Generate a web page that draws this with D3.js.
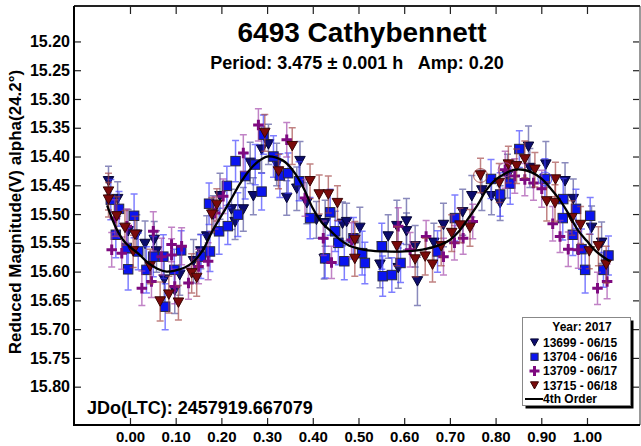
<!DOCTYPE html>
<html>
<head>
<meta charset="utf-8">
<script src="https://cdn.jsdelivr.net/npm/d3@7"></script>
<style>
  html, body { margin: 0; padding: 0; background: #fff; }
  svg { display: block; font-family: "Liberation Sans", Arial, sans-serif; }
</style>
</head>
<body>
<svg id="chart" width="641" height="446"></svg>
<script>
// Sessions shown in the legend
const sessionNames = ["13699 - 06/15", "13704 - 06/16", "13709 - 06/17", "13715 - 06/18"];

// Session 13699 (06/15)
const phase13699 = [-0.047,-0.027,-0.004,0.015,0.033,0.053,0.058,0.075,0.098,0.109,0.139,0.155,0.168,0.182,0.197,0.222,0.230,0.248,0.263,0.270,0.288,0.303,0.321,0.343,0.372,0.365,0.387,0.408,0.427,0.425,0.465,0.474,0.503,0.547,0.565,0.584,0.587,0.605,0.605,0.624,0.629,0.665,0.686,0.728,0.748,0.770,0.791,0.810,0.826,0.872,0.875,0.910,0.952,0.970,1.010,1.032];
const mag13699 = [15.443,15.474,15.530,15.536,15.552,15.545,15.565,15.614,15.633,15.606,15.582,15.565,15.539,15.501,15.469,15.492,15.514,15.492,15.411,15.469,15.388,15.379,15.414,15.472,15.408,15.456,15.481,15.510,15.516,15.578,15.517,15.514,15.524,15.588,15.539,15.521,15.594,15.513,15.530,15.556,15.617,15.550,15.519,15.497,15.469,15.459,15.469,15.481,15.434,15.383,15.420,15.414,15.443,15.474,15.524,15.550];
const err13699 = [0.026,0.030,0.038,0.035,0.040,0.032,0.036,0.042,0.040,0.035,0.038,0.030,0.036,0.033,0.040,0.035,0.030,0.038,0.036,0.032,0.040,0.035,0.037,0.030,0.034,0.038,0.036,0.032,0.040,0.035,0.038,0.033,0.036,0.040,0.038,0.045,0.035,0.040,0.032,0.036,0.042,0.034,0.038,0.040,0.036,0.035,0.032,0.030,0.038,0.036,0.034,0.040,0.032,0.035,0.038,0.036];

// Session 13704 (06/16)
const phase13704 = [-0.042,-0.024,-0.031,-0.007,0.009,-0.004,0.018,0.036,0.051,0.073,0.077,0.097,0.112,0.155,0.175,0.173,0.195,0.212,0.214,0.236,0.231,0.252,0.274,0.292,0.288,0.314,0.328,0.346,0.370,0.394,0.438,0.449,0.456,0.489,0.427,0.469,0.508,0.514,0.551,0.553,0.573,0.592,0.673,0.711,0.790,0.810,0.832,0.852,0.908,0.948,0.947,0.976,0.969,1.007,0.988,0.996,1.036,1.047];
const mag13704 = [15.475,15.491,15.536,15.559,15.503,15.596,15.565,15.597,15.574,15.574,15.661,15.597,15.563,15.574,15.565,15.482,15.530,15.451,15.521,15.501,15.408,15.434,15.414,15.362,15.461,15.400,15.433,15.429,15.443,15.507,15.497,15.530,15.550,15.542,15.577,15.582,15.568,15.585,15.556,15.608,15.606,15.585,15.565,15.507,15.439,15.466,15.447,15.387,15.439,15.474,15.507,15.491,15.536,15.503,15.561,15.597,15.597,15.572];
const err13704 = [0.035,0.030,0.040,0.034,0.038,0.036,0.032,0.040,0.035,0.038,0.040,0.036,0.034,0.038,0.035,0.036,0.040,0.034,0.032,0.038,0.036,0.040,0.035,0.034,0.032,0.036,0.038,0.035,0.034,0.036,0.040,0.035,0.038,0.036,0.034,0.032,0.038,0.036,0.040,0.035,0.030,0.034,0.036,0.040,0.034,0.038,0.036,0.032,0.035,0.036,0.038,0.034,0.036,0.032,0.035,0.040,0.030,0.034];

// Session 13709 (06/17)
const phase13709 = [-0.040,-0.018,-0.033,-0.007,0.051,0.026,0.047,0.069,0.091,0.091,0.113,0.098,0.128,0.150,0.171,0.186,0.204,0.248,0.281,0.343,0.383,0.423,0.441,0.485,0.587,0.613,0.648,0.686,0.710,0.729,0.750,0.821,0.842,0.864,0.883,0.901,0.925,0.941,0.959,0.981,1.044,1.023];
const mag13709 = [15.562,15.568,15.507,15.521,15.530,15.629,15.617,15.574,15.553,15.571,15.556,15.626,15.620,15.591,15.582,15.498,15.469,15.394,15.345,15.371,15.472,15.542,15.584,15.545,15.521,15.562,15.539,15.574,15.550,15.542,15.513,15.423,15.434,15.440,15.446,15.456,15.517,15.539,15.561,15.562,15.617,15.629];
const err13709 = [0.030,0.028,0.032,0.030,0.034,0.030,0.028,0.032,0.030,0.028,0.032,0.030,0.028,0.030,0.032,0.028,0.030,0.032,0.028,0.030,0.032,0.030,0.028,0.030,0.032,0.030,0.028,0.032,0.030,0.028,0.030,0.032,0.030,0.028,0.030,0.032,0.030,0.028,0.030,0.032,0.030,0.028];

// Session 13715 (06/18)
const phase13715 = [-0.047,-0.047,-0.029,-0.011,0.011,0.007,0.044,0.066,0.085,0.106,0.135,0.146,0.179,0.190,0.295,0.325,0.355,0.394,0.414,0.434,0.454,0.492,0.492,0.584,0.624,0.646,0.662,0.681,0.704,0.722,0.744,0.767,0.808,0.828,0.846,0.864,0.886,0.912,0.931,0.930,0.967,0.986,1.005,1.025,1.042];
const mag13715 = [15.461,15.475,15.504,15.524,15.536,15.565,15.591,15.652,15.640,15.654,15.603,15.611,15.501,15.484,15.359,15.426,15.382,15.443,15.466,15.466,15.481,15.545,15.578,15.556,15.579,15.574,15.588,15.556,15.533,15.520,15.524,15.433,15.446,15.414,15.417,15.405,15.423,15.478,15.440,15.481,15.507,15.519,15.565,15.556,15.588];
const err13715 = [0.032,0.030,0.034,0.030,0.032,0.028,0.030,0.034,0.032,0.030,0.034,0.032,0.030,0.028,0.032,0.030,0.032,0.030,0.034,0.032,0.030,0.032,0.030,0.034,0.030,0.032,0.030,0.034,0.032,0.030,0.032,0.030,0.034,0.032,0.030,0.032,0.030,0.034,0.030,0.032,0.030,0.032,0.030,0.034,0.032];

// Flagged observations, drawn with a ring: [session index, point index]
const ringedPoints = [[3, 31], [2, 31], [1, 48]];

// 4th-order Fourier fit
const fitPhase = [-0.05,-0.03,-0.01,0.02,0.04,0.06,0.08,0.10,0.12,0.14,0.16,0.18,0.20,0.22,0.24,0.26,0.28,0.30,0.32,0.34,0.36,0.38,0.40,0.42,0.44,0.46,0.48,0.50,0.52,0.56,0.60,0.64,0.68,0.70,0.72,0.74,0.76,0.78,0.80,0.82,0.84,0.86,0.88,0.90,0.92,0.94,0.96,0.98,1.00,1.02,1.05];
const fitMag = [15.485,15.525,15.550,15.570,15.585,15.595,15.600,15.598,15.593,15.582,15.562,15.530,15.503,15.476,15.448,15.425,15.409,15.400,15.402,15.410,15.428,15.455,15.490,15.515,15.530,15.545,15.555,15.560,15.563,15.565,15.565,15.562,15.553,15.545,15.530,15.508,15.485,15.458,15.440,15.430,15.423,15.423,15.428,15.438,15.455,15.475,15.500,15.528,15.547,15.565,15.582];

// Axis ticks
const xTicks = [0.0,0.1,0.2,0.3,0.4,0.5,0.6,0.7,0.8,0.9,1.0];
const yTicks = [15.20,15.25,15.30,15.35,15.40,15.45,15.50,15.55,15.60,15.65,15.70,15.75,15.80];

// ---- drawing ----
const svg = d3.select("#chart");
const plot = { left: 74, top: 6, right: 640, bottom: 425 };

const x = d3.scaleLinear().domain([-0.1225, 1.116]).range([plot.left, plot.right]);
const y = d3.scaleLinear().domain([15.1384, 15.8666]).range([plot.top, plot.bottom]);

const sessions = [
  { name: sessionNames[0], phase: phase13699, mag: mag13699, err: err13699, shape: "tri",
    fill: "#0c0c6e", stroke: "#050533", bar: "#4c4c98" },
  { name: sessionNames[1], phase: phase13704, mag: mag13704, err: err13704, shape: "square",
    fill: "#0a14f0", stroke: "#2a2a40", bar: "#3a3aff" },
  { name: sessionNames[2], phase: phase13709, mag: mag13709, err: err13709, shape: "plus",
    fill: "#7e0a80", stroke: "#7e0a80", bar: "#a040a8" },
  { name: sessionNames[3], phase: phase13715, mag: mag13715, err: err13715, shape: "tri",
    fill: "#7a0a0a", stroke: "#3a0505", bar: "#a04040" }
];

svg.append("defs").append("clipPath").attr("id", "plotClip")
  .append("rect").attr("x", plot.left).attr("y", plot.top)
  .attr("width", plot.right - plot.left).attr("height", plot.bottom - plot.top);

const dataLayer = svg.append("g").attr("clip-path", "url(#plotClip)");

function drawMarker(g, shape, s, cx, cy, size) {
  if (shape === "tri") {
    const w = size, h = size * 0.9;
    g.append("path")
      .attr("d", `M${cx - w / 2},${cy - h / 2}L${cx + w / 2},${cy - h / 2}L${cx},${cy + h / 2}Z`)
      .attr("fill", s.fill).attr("stroke", s.stroke).attr("stroke-width", 1);
  } else if (shape === "square") {
    const w = size * 0.9;
    g.append("rect").attr("x", cx - w / 2).attr("y", cy - w / 2)
      .attr("width", w).attr("height", w)
      .attr("fill", s.fill).attr("stroke", s.stroke).attr("stroke-width", 1);
  } else {
    const r = size / 2;
    g.append("path")
      .attr("d", `M${cx - r},${cy}L${cx + r},${cy}M${cx},${cy - r}L${cx},${cy + r}`)
      .attr("stroke", s.fill).attr("stroke-width", 3).attr("fill", "none");
  }
}

sessions.forEach(s => {
  const pts = s.phase.map((p, i) => ({ p, m: s.mag[i], e: s.err[i] }));
  const gBars = dataLayer.append("g").attr("stroke", s.bar).attr("stroke-opacity", 0.65)
    .attr("stroke-width", 1.5).attr("fill", "none");
  pts.forEach(d => {
    const cx = x(d.p), y1 = y(d.m - d.e), y2 = y(d.m + d.e);
    gBars.append("path")
      .attr("d", `M${cx},${y1}L${cx},${y2}M${cx - 3.5},${y1}L${cx + 3.5},${y1}M${cx - 3.5},${y2}L${cx + 3.5},${y2}`);
  });
  const gMarks = dataLayer.append("g");
  pts.forEach(d => drawMarker(gMarks, s.shape, s, x(d.p), y(d.m), 10.5));
});

// rings around flagged observations
ringedPoints.forEach(([si, pi]) => {
  const s = sessions[si];
  dataLayer.append("circle")
    .attr("cx", x(s.phase[pi])).attr("cy", y(s.mag[pi])).attr("r", 7)
    .attr("fill", "none").attr("stroke", s.bar).attr("stroke-width", 1).attr("stroke-opacity", 0.8);
});

// Fourier fit curve
const fitPts = fitPhase.map((p, i) => [p, fitMag[i]]);
dataLayer.append("path")
  .datum(fitPts)
  .attr("d", d3.line().x(d => x(d[0])).y(d => y(d[1])).curve(d3.curveCatmullRom.alpha(0.5)))
  .attr("fill", "none").attr("stroke", "#000").attr("stroke-width", 2.3);

// Axes
const fmt = d3.format(".2f");
const axisStyle = g => {
  g.select(".domain").remove();
  g.selectAll(".tick line").attr("stroke", "#222").attr("stroke-width", 1.2);
  g.selectAll(".tick text").attr("fill", "#000").attr("font-weight", "bold")
    .attr("font-family", "Liberation Sans, Arial, sans-serif");
};

svg.append("g").attr("transform", `translate(${plot.left},0)`)
  .call(d3.axisLeft(y).tickValues(yTicks).tickFormat(fmt).tickSizeInner(-7).tickSizeOuter(0).tickPadding(4))
  .call(axisStyle)
  .call(g => g.selectAll(".tick text").attr("font-size", 16));

svg.append("g").attr("transform", `translate(${plot.right},0)`)
  .call(d3.axisRight(y).tickValues(yTicks).tickFormat("").tickSizeInner(-7).tickSizeOuter(0))
  .call(axisStyle);

svg.append("g").attr("transform", `translate(0,${plot.bottom})`)
  .call(d3.axisBottom(x).tickValues(xTicks).tickFormat(fmt).tickSizeInner(-7).tickSizeOuter(0).tickPadding(6))
  .call(axisStyle)
  .call(g => g.selectAll(".tick text").attr("font-size", 15));

svg.append("g").attr("transform", `translate(0,${plot.top})`)
  .call(d3.axisTop(x).tickValues(xTicks).tickFormat("").tickSizeInner(-8).tickSizeOuter(0))
  .call(axisStyle);

// Frame
svg.append("line").attr("x1", plot.right).attr("x2", plot.right).attr("y1", plot.top).attr("y2", plot.bottom)
  .attr("stroke", "#999").attr("stroke-width", 2);
svg.append("line").attr("x1", plot.left).attr("x2", plot.right).attr("y1", plot.top).attr("y2", plot.top)
  .attr("stroke", "#222").attr("stroke-width", 2);
svg.append("line").attr("x1", plot.left).attr("x2", plot.left).attr("y1", plot.top).attr("y2", plot.bottom + 1)
  .attr("stroke", "#000").attr("stroke-width", 2);
svg.append("line").attr("x1", plot.left).attr("x2", plot.right).attr("y1", plot.bottom).attr("y2", plot.bottom)
  .attr("stroke", "#000").attr("stroke-width", 2);

// Titles
svg.append("text").attr("x", 362).attr("y", 42).attr("text-anchor", "middle")
  .attr("font-size", 28).attr("font-weight", "bold").text("6493 Cathybennett");
svg.append("text").attr("x", 357).attr("y", 68.5).attr("text-anchor", "middle")
  .attr("font-size", 18).attr("font-weight", "bold").attr("xml:space", "preserve")
  .text("Period: 3.475 \u00b1 0.001 h   Amp: 0.20");
svg.append("text").attr("transform", "translate(21,212) rotate(-90)").attr("text-anchor", "middle")
  .attr("font-size", 17).attr("font-weight", "bold").text("Reduced Magnitude(V) alpha(24.2\u00b0)");
svg.append("text").attr("x", 87).attr("y", 414)
  .attr("font-size", 18).attr("font-weight", "bold").text("JDo(LTC): 2457919.667079");

// Legend
const lg = svg.append("g");
const box = { x: 522.5, y: 317.5, w: 108, h: 88 };
lg.append("rect").attr("x", box.x + 3).attr("y", box.y + 3).attr("width", box.w).attr("height", box.h).attr("fill", "#000");
lg.append("rect").attr("x", box.x).attr("y", box.y).attr("width", box.w).attr("height", box.h)
  .attr("fill", "#fff").attr("stroke", "#888").attr("stroke-width", 1);
lg.append("text").attr("x", 582).attr("y", 331).attr("text-anchor", "middle")
  .attr("font-size", 12).attr("font-weight", "bold").text("Year: 2017");
sessions.forEach((s, i) => {
  const cy = 342.5 + i * 14.3;
  drawMarker(lg, s.shape, s, 534.5, cy, s.shape === "plus" ? 10 : 8);
  lg.append("text").attr("x", 543).attr("y", cy + 4.3)
    .attr("font-size", 12).attr("font-weight", "bold").text(s.name);
});
lg.append("line").attr("x1", 525).attr("x2", 543).attr("y1", 399).attr("y2", 399)
  .attr("stroke", "#000").attr("stroke-width", 2);
lg.append("text").attr("x", 543).attr("y", 403).attr("font-size", 12).attr("font-weight", "bold").text("4th Order");
</script>
</body>
</html>
